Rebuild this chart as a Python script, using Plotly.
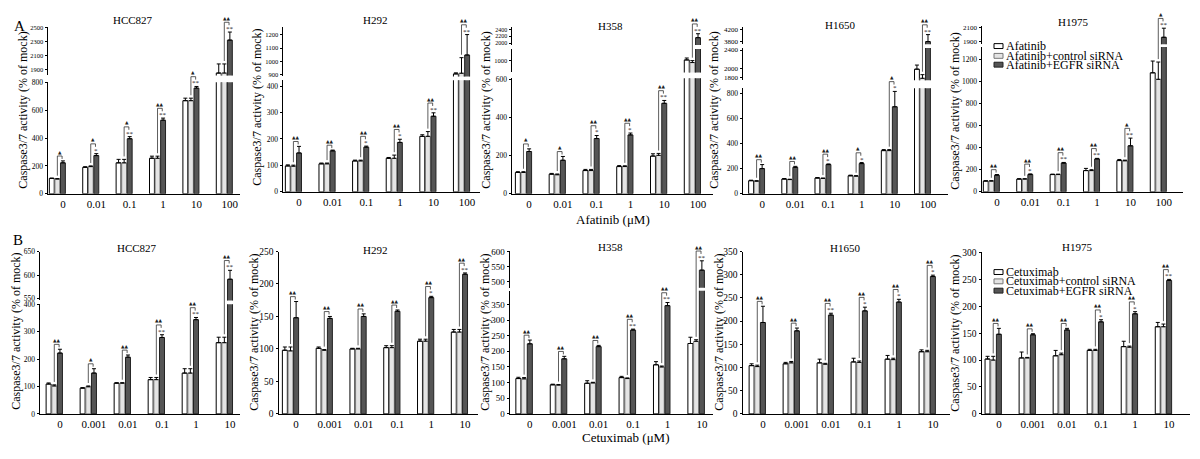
import plotly.graph_objects as go

# ======================= DATA =======================
afatinib_doses = ["0", "0.01", "0.1", "1", "10", "100"]
cetuximab_doses = ["0", "0.001", "0.01", "0.1", "1", "10"]
afatinib_legend = ["Afatinib", "Afatinib+control siRNA", "Afatinib+EGFR siRNA"]
cetuximab_legend = ["Cetuximab", "Cetuximab+control siRNA", "Cetuximab+EGFR siRNA"]

# ---- A: Afatinib ----
hcc827_afa = [110, 190, 222, 255, 668, 1850]
hcc827_afa_err = [3, 4, 25, 15, 18, 130]
hcc827_afa_ctrl = [106, 195, 222, 255, 668, 1850]
hcc827_afa_ctrl_err = [3, 5, 25, 15, 18, 130]
hcc827_afa_egfr = [222, 274, 395, 528, 758, 2320]
hcc827_afa_egfr_err = [14, 14, 15, 15, 12, 115]
hcc827_afa_tri = ["▲", "▲", "▲", "▲▲", "▲", "▲▲"]
hcc827_afa_star = ["", "*", "**", "**", "**", "**"]

h292_afa = [98, 106, 117, 127, 210, 905]
h292_afa_err = [4, 3, 3, 3, 6, 8]
h292_afa_ctrl = [97, 106, 117, 127, 210, 910]
h292_afa_ctrl_err = [4, 3, 3, 12, 18, 118]
h292_afa_egfr = [147, 155, 169, 187, 286, 1048]
h292_afa_egfr_err = [25, 3, 4, 12, 13, 155]
h292_afa_tri = ["▲▲", "▲▲", "▲▲", "▲▲", "▲▲", "▲▲"]
h292_afa_star = ["", "", "*", "*", "**", "**"]

h358_afa = [112, 103, 122, 143, 198, 1010]
h358_afa_err = [4, 4, 6, 5, 12, 20]
h358_afa_ctrl = [112, 100, 122, 143, 202, 983]
h358_afa_ctrl_err = [4, 4, 6, 4, 10, 20]
h358_afa_egfr = [222, 176, 290, 309, 475, 2160]
h358_afa_egfr_err = [14, 20, 16, 10, 15, 115]
h358_afa_tri = ["▲", "▲", "▲▲", "▲▲", "▲▲", "▲▲"]
h358_afa_star = ["", "", "*", "*", "**", "**"]

h1650_afa = [104, 117, 125, 143, 343, 1980]
h1650_afa_err = [4, 4, 4, 5, 8, 90]
h1650_afa_ctrl = [100, 113, 122, 140, 343, 1780]
h1650_afa_ctrl_err = [4, 3, 3, 4, 8, 80]
h1650_afa_egfr = [200, 210, 232, 240, 691, 3810]
h1650_afa_egfr_err = [32, 8, 5, 8, 122, 230]
h1650_afa_tri = ["▲▲", "▲▲", "▲▲", "▲", "▲", "▲▲"]
h1650_afa_star = ["", "", "*", "*", "*", "**"]

h1975_afa = [98, 116, 157, 193, 284, 1081]
h1975_afa_err = [3, 3, 4, 20, 10, 107]
h1975_afa_ctrl = [98, 116, 157, 193, 282, 1022]
h1975_afa_ctrl_err = [3, 3, 4, 8, 6, 157]
h1975_afa_egfr = [151, 157, 261, 299, 418, 1957]
h1975_afa_egfr_err = [6, 6, 6, 5, 70, 133]
h1975_afa_tri = ["▲▲", "▲▲", "▲▲", "▲▲", "▲", "▲"]
h1975_afa_star = ["", "*", "**", "**", "**", "**"]

# ---- B: Cetuximab ----
hcc827_cet = [109, 94, 112, 125, 149, 260]
hcc827_cet_err = [4, 2, 2, 8, 16, 20]
hcc827_cet_ctrl = [102, 99, 112, 125, 149, 260]
hcc827_cet_ctrl_err = [4, 3, 2, 8, 16, 20]
hcc827_cet_egfr = [222, 149, 207, 279, 344, 591]
hcc827_cet_egfr_err = [14, 16, 8, 10, 8, 19]
hcc827_cet_tri = ["▲▲", "▲", "▲▲", "▲▲", "▲▲", "▲▲"]
hcc827_cet_star = ["", "", "", "**", "**", "**"]

h292_cet = [98, 101, 100, 102, 112, 126]
h292_cet_err = [5, 2, 1, 3, 3, 4]
h292_cet_ctrl = [97, 98, 100, 102, 112, 126]
h292_cet_ctrl_err = [6, 1, 1, 3, 3, 4]
h292_cet_egfr = [148, 147, 150, 158, 179, 215]
h292_cet_egfr_err = [25, 3, 4, 2, 2, 2]
h292_cet_tri = ["▲▲", "▲▲", "▲▲", "▲▲", "▲▲", "▲▲"]
h292_cet_star = ["", "", "", "", "*", "**"]

h358_cet = [113, 93, 98, 116, 157, 225]
h358_cet_err = [4, 2, 8, 4, 10, 20]
h358_cet_ctrl = [112, 92, 99, 113, 150, 232]
h358_cet_ctrl_err = [4, 2, 2, 2, 3, 5]
h358_cet_egfr = [224, 176, 215, 268, 346, 538]
h358_cet_egfr_err = [12, 8, 4, 3, 10, 31]
h358_cet_tri = ["▲▲", "▲▲", "▲▲", "▲▲", "▲▲", "▲▲"]
h358_cet_star = ["", "", "", "**", "**", "**"]

h1650_cet = [104, 108, 110, 112, 118, 134]
h1650_cet_err = [4, 3, 8, 8, 8, 4]
h1650_cet_ctrl = [102, 110, 107, 111, 117, 134]
h1650_cet_ctrl_err = [3, 3, 2, 3, 3, 3]
h1650_cet_egfr = [197, 179, 213, 222, 241, 296]
h1650_cet_egfr_err = [35, 6, 4, 8, 6, 3]
h1650_cet_tri = ["▲▲", "▲▲", "▲▲", "▲▲", "▲▲", "▲▲"]
h1650_cet_star = ["", "", "**", "*", "*", "*"]

h1975_cet = [102, 104, 108, 118, 125, 162]
h1975_cet_err = [5, 11, 10, 2, 10, 8]
h1975_cet_ctrl = [100, 104, 110, 118, 124, 162]
h1975_cet_ctrl_err = [7, 1, 3, 2, 2, 5]
h1975_cet_egfr = [148, 147, 156, 171, 186, 248]
h1975_cet_egfr_err = [11, 2, 3, 4, 4, 2]
h1975_cet_tri = ["▲▲", "▲▲", "▲▲", "▲▲", "▲▲", "▲▲"]
h1975_cet_star = ["", "", "", "*", "*", "**"]

# ======================= LAYOUT CONFIG =======================
FW, FH = 1200, 459
SERIF = "Liberation Serif, Times New Roman, serif"
BARGAP = 0.5
SLOT = (1 - BARGAP) / 3


def seg(rng, pb, pt, ticks, size):
    return dict(range=rng, px=(pb, pt), ticks=ticks, size=size)


panels = [
    dict(title="HCC827", doses=afatinib_doses,
         series=[(hcc827_afa, hcc827_afa_err), (hcc827_afa_ctrl, hcc827_afa_ctrl_err), (hcc827_afa_egfr, hcc827_afa_egfr_err)],
         tri=hcc827_afa_tri, star=hcc827_afa_star, xpx=(48, 240), xrange=[-0.28, 5.47],
         segs=[seg([0, 800], 193, 79, [0, 200, 400, 600, 800], 7.5),
               seg([1816, 2514], 72, 22, [1900, 2100, 2300, 2500], 6.5)],
         tpos=(133, 15), ypos=(23, 108)),
    dict(title="H292", doses=afatinib_doses,
         series=[(h292_afa, h292_afa_err), (h292_afa_ctrl, h292_afa_ctrl_err), (h292_afa_egfr, h292_afa_egfr_err)],
         tri=h292_afa_tri, star=h292_afa_star, xpx=(283, 480), xrange=[-0.31, 5.55],
         segs=[seg([0, 422], 191, 77, [0, 100, 200, 300, 400], 7.5),
               seg([886, 1264], 73, 22, [900, 1000, 1100, 1200], 6.5)],
         tpos=(375, 15), ypos=(257, 105)),
    dict(title="H358", doses=afatinib_doses,
         series=[(h358_afa, h358_afa_err), (h358_afa_ctrl, h358_afa_ctrl_err), (h358_afa_egfr, h358_afa_egfr_err)],
         tri=h358_afa_tri, star=h358_afa_star, xpx=(512, 713), xrange=[-0.34, 5.61],
         segs=[seg([0, 606], 193, 75, [0, 200, 400, 600], 7.5),
               seg([880, 1123], 69, 45, [1000], 6.5),
               seg([1943, 2457], 41, 23, [2000, 2200, 2400], 6)],
         tpos=(610, 21), ypos=(486, 108)),
    dict(title="H1650", doses=afatinib_doses,
         series=[(h1650_afa, h1650_afa_err), (h1650_afa_ctrl, h1650_afa_ctrl_err), (h1650_afa_egfr, h1650_afa_egfr_err)],
         tri=h1650_afa_tri, star=h1650_afa_star, xpx=(743, 948), xrange=[-0.41, 5.77],
         segs=[seg([0, 839], 193, 85, [0, 200, 400, 600, 800], 7.5),
               seg([1736, 2443], 77, 44, [1800, 2000, 2400], 7),
               seg([3726, 4274], 40, 23, [3800, 4200], 7)],
         tpos=(840, 20), ypos=(714, 108)),
    dict(title="H1975", doses=afatinib_doses,
         series=[(h1975_afa, h1975_afa_err), (h1975_afa_ctrl, h1975_afa_ctrl_err), (h1975_afa_egfr, h1975_afa_egfr_err)],
         tri=h1975_afa_tri, star=h1975_afa_star, xpx=(982, 1183), xrange=[-0.28, 5.74],
         segs=[seg([0, 1315], 191, 43, [0, 200, 400, 600, 800, 1000, 1200], 7.5),
               seg([1857, 2129], 40, 21, [1900, 2100], 7)],
         tpos=(1073, 17), ypos=(955, 108),
         legend=(afatinib_legend, 994, [42, 52, 61])),
    dict(title="HCC827", doses=cetuximab_doses,
         series=[(hcc827_cet, hcc827_cet_err), (hcc827_cet_ctrl, hcc827_cet_ctrl_err), (hcc827_cet_egfr, hcc827_cet_egfr_err)],
         tri=hcc827_cet_tri, star=hcc827_cet_star, xpx=(40, 240), xrange=[-0.42, 5.46],
         segs=[seg([0, 400], 418, 306, [0, 100, 200, 300, 400], 7.5),
               seg([546, 650], 302, 252, [550, 600, 650], 7.5)],
         tpos=(137, 248), ypos=(16, 334)),
    dict(title="H292", doses=cetuximab_doses,
         series=[(h292_cet, h292_cet_err), (h292_cet_ctrl, h292_cet_ctrl_err), (h292_cet_egfr, h292_cet_egfr_err)],
         tri=h292_cet_tri, star=h292_cet_star, xpx=(279, 478), xrange=[-0.34, 5.55],
         segs=[seg([0, 250], 418, 252, [0, 50, 100, 150, 200, 250], 9.5)],
         tpos=(375, 250), ypos=(254, 335)),
    dict(title="H358", doses=cetuximab_doses,
         series=[(h358_cet, h358_cet_err), (h358_cet_ctrl, h358_cet_ctrl_err), (h358_cet_egfr, h358_cet_egfr_err)],
         tri=h358_cet_tri, star=h358_cet_star, xpx=(510, 713), xrange=[-0.41, 5.49],
         segs=[seg([0, 394], 418, 292, [0, 50, 100, 150, 200, 250, 300, 350], 9),
               seg([480, 603], 289, 251, [500, 550, 600], 9)],
         tpos=(610, 247), ypos=(485, 335)),
    dict(title="H1650", doses=cetuximab_doses,
         series=[(h1650_cet, h1650_cet_err), (h1650_cet_ctrl, h1650_cet_ctrl_err), (h1650_cet_egfr, h1650_cet_egfr_err)],
         tri=h1650_cet_tri, star=h1650_cet_star, xpx=(743, 950), xrange=[-0.42, 5.67],
         segs=[seg([0, 350], 418, 252, [0, 50, 100, 150, 200, 250, 300, 350], 9.5)],
         tpos=(845, 248), ypos=(719, 335)),
    dict(title="H1975", doses=cetuximab_doses,
         series=[(h1975_cet, h1975_cet_err), (h1975_cet_ctrl, h1975_cet_ctrl_err), (h1975_cet_egfr, h1975_cet_egfr_err)],
         tri=h1975_cet_tri, star=h1975_cet_star, xpx=(982, 1190), xrange=[-0.33, 5.78],
         segs=[seg([0, 300], 418, 253, [0, 50, 100, 150, 200, 250, 300], 9.5)],
         tpos=(1077, 247), ypos=(955, 335),
         legend=(cetuximab_legend, 994, [273, 282.5, 292])),
]

STYLE = [
    dict(fill="white", line="black"),
    dict(fill="#e4e4e4", line="#777777"),
    dict(fill="#555555", line="#222222"),
]


def pxx(px):
    return px / FW


def pxy(py):
    return 1 - py / FH


def val_to_py(segs, v):
    for i, s in enumerate(segs):
        r0, r1 = s["range"]
        pb, pt = s["px"]
        k = (pb - pt) / (r1 - r0)
        last = i == len(segs) - 1
        if v <= r1 or last or v < segs[i + 1]["range"][0]:
            return pb - (v - r0) * k


fig = go.Figure()
layout = {}
shapes = []
annotations = []
yi = 0
for pi, P in enumerate(panels):
    xn = pi + 1
    xid = "x" if xn == 1 else f"x{xn}"
    xkey = "xaxis" if xn == 1 else f"xaxis{xn}"
    n = len(P["doses"])
    xs = list(range(n))
    y_ids = []
    for s_ in P["segs"]:
        yi += 1
        yid = "y" if yi == 1 else f"y{yi}"
        ykey = "yaxis" if yi == 1 else f"yaxis{yi}"
        y_ids.append(yid)
        layout[ykey] = dict(
            domain=[pxy(s_["px"][0]), pxy(s_["px"][1])], range=s_["range"], anchor=xid,
            tickmode="array", tickvals=s_["ticks"], ticks="outside", ticklen=2.5, tickwidth=1,
            tickcolor="black", showline=True, linecolor="black", linewidth=1,
            showgrid=False, zeroline=False,
            tickfont=dict(family=SERIF, size=s_["size"], color="black"))
        for k, (vals, errs) in enumerate(P["series"]):
            fig.add_trace(go.Bar(
                x=xs, y=vals, xaxis=xid, yaxis=yid, showlegend=False,
                marker=dict(color=STYLE[k]["fill"], line=dict(color=STYLE[k]["line"], width=1)),
                error_y=dict(type="data", array=errs, arrayminus=[0] * len(errs), symmetric=False,
                             color="black", thickness=1, width=2)))
    layout[xkey] = dict(
        domain=[pxx(P["xpx"][0]), pxx(P["xpx"][1])], range=P["xrange"], anchor=y_ids[0],
        tickmode="array", tickvals=[i + SLOT for i in xs], ticktext=P["doses"],
        showline=True, linecolor="black", linewidth=1, ticks="", showgrid=False, zeroline=False,
        tickfont=dict(family=SERIF, size=11, color="black"))

    # significance brackets and markers
    mono, ctrl, egfr = P["series"]
    for i in xs:
        dtop = egfr[0][i] + egfr[1][i]
        ltop = ctrl[0][i] + ctrl[1][i]
        py_d = val_to_py(P["segs"], dtop)
        py_l = val_to_py(P["segs"], ltop)
        st = P["star"][i]
        py_h = py_d - (10 if st else 5)
        py_lb = max(py_l - 3, py_h + 3)
        xl = i
        xr = i + SLOT * 0.85
        shapes.append(dict(
            type="path", xref=xid, yref="paper",
            path=f"M {xl},{pxy(py_lb)} L {xl},{pxy(py_h)} L {xr},{pxy(py_h)} L {xr},{pxy(py_h + 3)}",
            line=dict(color="#333333", width=0.8)))
        annotations.append(dict(
            x=(xl + xr) / 2, y=pxy(py_h - 0.5), xref=xid, yref="paper", text=P["tri"][i],
            showarrow=False, yanchor="bottom", xanchor="center", borderpad=0,
            font=dict(family="DejaVu Sans", size=4.5, color="#222222")))
        if st:
            annotations.append(dict(
                x=i + SLOT, y=pxy(py_d + 2), xref=xid, yref="paper", text=st,
                showarrow=False, yanchor="bottom", xanchor="center", borderpad=0,
                font=dict(family=SERIF, size=7, color="#222222")))

    # panel title
    annotations.append(dict(x=pxx(P["tpos"][0]), y=pxy(P["tpos"][1]), xref="paper", yref="paper",
                            text=P["title"], showarrow=False, xanchor="center", yanchor="middle",
                            font=dict(family=SERIF, size=11, color="black")))
    # y-axis title
    annotations.append(dict(x=pxx(P["ypos"][0]), y=pxy(P["ypos"][1]), xref="paper", yref="paper",
                            text="Caspase3/7 activity (% of mock)", textangle=-90, showarrow=False,
                            xanchor="center", yanchor="middle",
                            font=dict(family=SERIF, size=12, color="black")))
    # legend
    if "legend" in P:
        labels, lx, lys = P["legend"]
        for k, (lab, ly) in enumerate(zip(labels, lys)):
            shapes.append(dict(type="rect", xref="paper", yref="paper",
                               x0=pxx(lx), x1=pxx(lx + 9), y0=pxy(ly + 2.5), y1=pxy(ly - 2.5),
                               fillcolor=STYLE[k]["fill"], line=dict(color=STYLE[k]["line"], width=1)))
            annotations.append(dict(x=pxx(lx + 10), y=pxy(ly), xref="paper", yref="paper",
                                    text=lab, showarrow=False, xanchor="left", yanchor="middle",
                                    font=dict(family=SERIF, size=12, color="black")))

# x-axis titles and panel letters
annotations.append(dict(x=pxx(613), y=pxy(219), xref="paper", yref="paper", text="Afatinib (μM)",
                        showarrow=False, font=dict(family=SERIF, size=13, color="black")))
annotations.append(dict(x=pxx(625), y=pxy(452), xref="paper", yref="paper", text="Cetuximab (μM)",
                        showarrow=False, font=dict(family=SERIF, size=13, color="black")))
annotations.append(dict(x=pxx(12), y=pxy(11), xref="paper", yref="paper", text="A",
                        showarrow=False, font=dict(family=SERIF, size=15, color="black")))
annotations.append(dict(x=pxx(11), y=pxy(240), xref="paper", yref="paper", text="B",
                        showarrow=False, font=dict(family=SERIF, size=15, color="black")))

fig.update_layout(
    width=FW, height=FH, margin=dict(l=0, r=0, t=0, b=0),
    paper_bgcolor="white", plot_bgcolor="white",
    barmode="group", bargap=BARGAP, bargroupgap=0.12,
    shapes=shapes, annotations=annotations, showlegend=False,
    **layout)

fig.write_html("out.html", config={"displayModeBar": False},
               post_script="document.body.style.margin='0';document.body.style.overflow='hidden';")
